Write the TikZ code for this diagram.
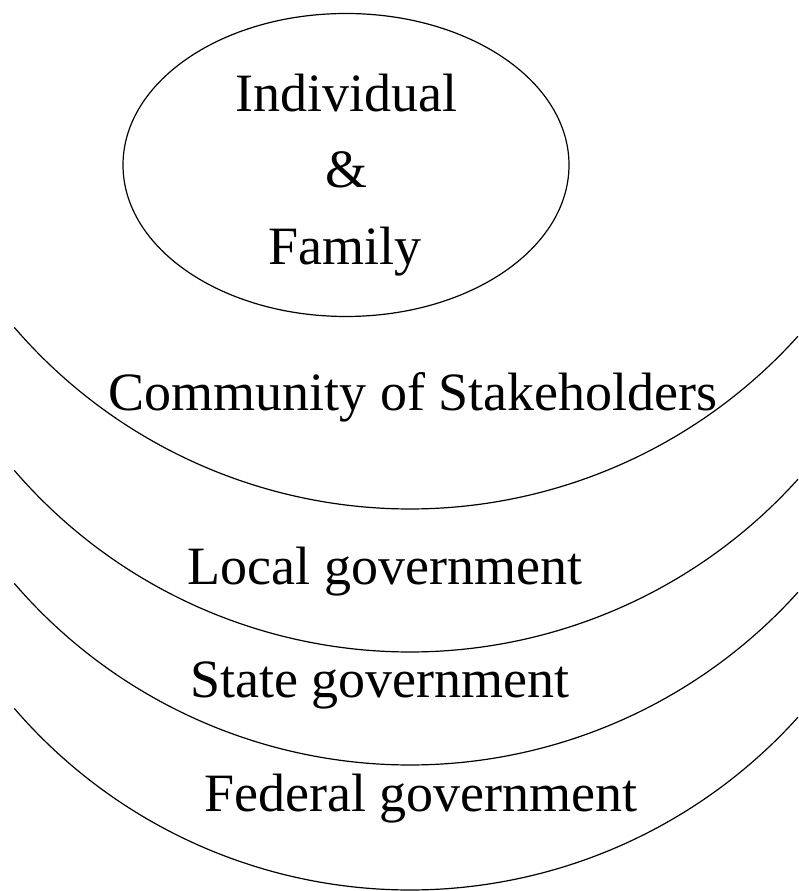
\documentclass[tikz,border=0pt]{standalone}
\usepackage{fontspec}
\setmainfont{Liberation Serif}
\usetikzlibrary{shapes.geometric}

\begin{document}
\begin{tikzpicture}[x=1pt,y=1pt,line width=1.2pt,
    txt/.style={anchor=base,inner sep=0pt,font=\fontsize{54}{60}\selectfont}]
  \useasboundingbox (0,0) rectangle (798,891);
  % the core
  \node[draw,ellipse,minimum width=446,minimum height=303,inner sep=0pt] (core) at (346,726) {};
  \foreach \x/\y/\n/\z in {346/779/indiv/Individual,346/703/amp/\&,345/626/fam/Family} {
    \node[txt] (\n) at (\x,\y) {\z};}
  % rings, bottom points
  \foreach \b/\n in {382/ringa,239/ringb,126/ringc,1/ringd} {
    \coordinate (\n) at (410,\b);
    \draw (\n) ++(0,522) ++(220.7:522) arc[start angle=220.7,end angle=318,radius=522];}
  \node[txt] (comm) at (413,480) {Community of Stakeholders};
  \node[txt] (local) at (385,306) {Local government};
  \node[txt] (state) at (380,193) {State government};
  \node[txt] (fed) at (421,79) {Federal government};
\end{tikzpicture}
\end{document}
